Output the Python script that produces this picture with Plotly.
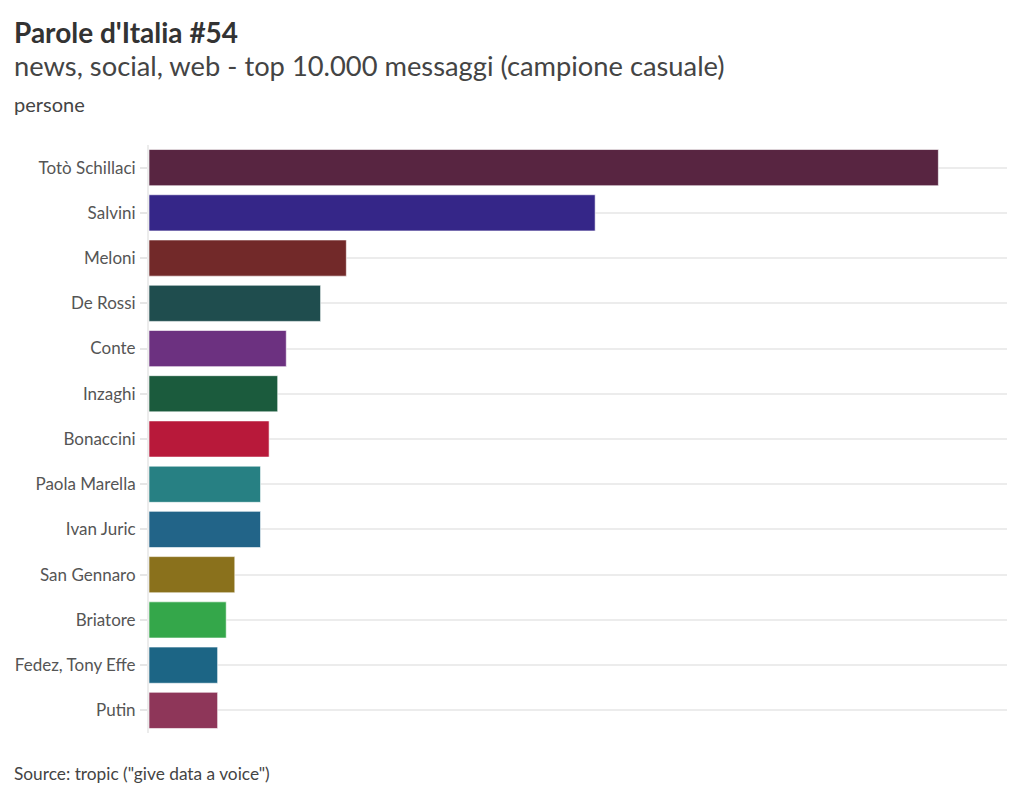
import plotly.graph_objects as go

names = ["Totò Schillaci", "Salvini", "Meloni", "De Rossi", "Conte", "Inzaghi",
         "Bonaccini", "Paola Marella", "Ivan Juric", "San Gennaro", "Briatore",
         "Fedez, Tony Effe", "Putin"]
values = [92, 52, 23, 20, 16, 15, 14, 13, 13, 10, 9, 8, 8]
colors = ["#582541", "#352688", "#722929", "#1f4d4e", "#6c3180", "#1b5b3d",
          "#b8193a", "#278083", "#226488", "#8a711c", "#34a74a", "#1c6585", "#8e3659"]

FONT = "Lato"
OFF = 8  # page body margin
W, H = 1024 - OFF * 2, 797 - OFF * 2
ML, MR, MT, MB = 149 - OFF, 1024 - 1007 - OFF, 145 - OFF, 797 - 733 - OFF
PW = W - ML - MR
PH = H - MT - MB

def py(p):
    return (H - MB - (p - OFF)) / PH

X0 = -(ML - (12 - OFF)) / PW

fig = go.Figure(go.Bar(
    y=names, x=values, orientation="h",
    marker=dict(color=colors, line=dict(color="rgba(255,255,255,0.6)", width=1)),
    width=0.8, hoverinfo="x+y",
))

fig.update_layout(
    width=W, height=H,
    margin=dict(l=ML, r=MR, t=MT, b=MB, autoexpand=False),
    paper_bgcolor="white", plot_bgcolor="white",
    font=dict(family=FONT, color="#555555"),
    showlegend=False,
    xaxis=dict(range=[0, 100], showgrid=False, zeroline=False, showticklabels=False,
               showline=False, ticks="", automargin=False),
    yaxis=dict(autorange="reversed", showgrid=True, gridcolor="#ececec", gridwidth=2,
               ticks="outside", ticklen=7, tickcolor="#e6e6e6", tickwidth=2, automargin=False,
               showline=True, linecolor="#ececec", linewidth=2, ticklabelstandoff=1,
               tickfont=dict(size=17, color="#555555", family=FONT)),
    annotations=[
        dict(text="<b>Parole d'Italia #54</b>", xref="paper", yref="paper", x=X0,
             y=py(32.5), xanchor="left", yanchor="middle", showarrow=False,
             font=dict(size=28, color="#333333", family=FONT)),
        dict(text="news, social, web - top 10.000 messaggi (campione casuale)", xref="paper", yref="paper",
             x=X0, y=py(66), xanchor="left", yanchor="middle", showarrow=False,
             font=dict(size=27.3, color="#444444", family=FONT)),
        dict(text="persone", xref="paper", yref="paper", x=X0,
             y=py(104), xanchor="left", yanchor="middle", showarrow=False,
             font=dict(size=20, color="#444444", family=FONT)),
        dict(text='Source: tropic ("give data a voice")', xref="paper", yref="paper",
             x=X0, y=py(773), xanchor="left", yanchor="middle", showarrow=False,
             font=dict(size=17.3, color="#444444", family=FONT)),
    ],
)

fig.write_html("out.html")
